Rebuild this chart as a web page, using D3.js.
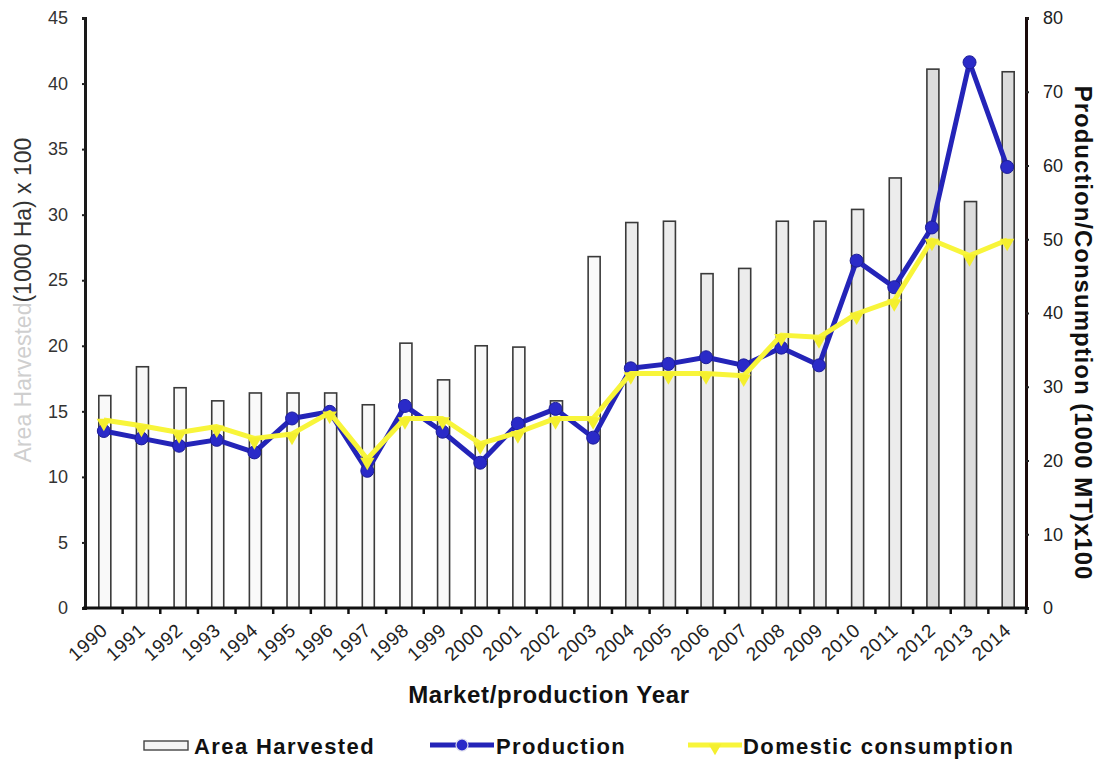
<!DOCTYPE html>
<html>
<head>
<meta charset="utf-8">
<script src="https://cdn.jsdelivr.net/npm/d3@7"></script>
<style>
  html, body { margin: 0; padding: 0; background: #fff; }
  svg { display: block; font-family: "Liberation Sans", Arial, sans-serif; }
</style>
</head>
<body>
<svg id="chart" width="1108" height="761"></svg>
<script>
// Market / production years
const years = [1990, 1991, 1992, 1993, 1994, 1995, 1996, 1997, 1998, 1999,
               2000, 2001, 2002, 2003, 2004, 2005, 2006, 2007, 2008, 2009,
               2010, 2011, 2012, 2013, 2014];

// Area harvested (1000 Ha) x 100 — left axis
const areaHarvested = [16.2, 18.4, 16.8, 15.8, 16.4, 16.4, 16.4, 15.5, 20.2, 17.4,
                       20.0, 19.9, 15.8, 26.8, 29.4, 29.5, 25.5, 25.9, 29.5, 29.5,
                       30.4, 32.8, 41.1, 31.0, 40.9];

// Production (1000 MT) x 100 — right axis
const production = [24.0, 23.0, 22.0, 22.8, 21.1, 25.7, 26.6, 18.6, 27.4, 23.9,
                    19.7, 25.0, 27.0, 23.1, 32.5, 33.1, 34.0, 32.9, 35.3, 32.9,
                    47.1, 43.5, 51.6, 74.0, 59.8];

// Domestic consumption (1000 MT) x 100 — right axis
const consumption = [25.5, 24.7, 23.8, 24.6, 23.0, 23.6, 26.5, 20.2, 25.7, 25.7,
                     22.3, 23.8, 25.7, 25.7, 31.8, 31.8, 31.8, 31.5, 37.0, 36.7,
                     39.9, 41.7, 49.9, 47.8, 49.9];

// Axis tick values
const leftTicks = [0, 5, 10, 15, 20, 25, 30, 35, 40, 45];
const rightTicks = [0, 10, 20, 30, 40, 50, 60, 70, 80];

const svg = d3.select("#chart");
const plot = { left: 85, right: 1026, top: 18, bottom: 608 };

const x = d3.scaleBand().domain(years).range([plot.left, plot.right]).padding(0);
const yL = d3.scaleLinear().domain([0, 45]).range([plot.bottom, plot.top]);
const yR = d3.scaleLinear().domain([0, 80]).range([plot.bottom, plot.top]);

// Bars: area harvested
const barW = 12;
svg.append("g").selectAll("rect")
  .data(years)
  .join("rect")
  .attr("x", (d) => x(d) + x.bandwidth() / 2 - barW / 2 + 1)
  .attr("y", (d, i) => yL(areaHarvested[i]))
  .attr("width", barW)
  .attr("height", (d, i) => yL(0) - yL(areaHarvested[i]))
  .attr("fill", (d, i) => i >= 22 ? "#dcdcdc" : (i >= 14 ? "#ececec" : "#f9f9f9"))
  .attr("stroke", "#3a3a3a")
  .attr("stroke-width", 1.6);

// Lines
const cx = (d) => x(d) + x.bandwidth() / 2;

const prodLine = d3.line().x((d, i) => cx(years[i])).y((d) => yR(d));
svg.append("path")
  .datum(production)
  .attr("d", prodLine)
  .attr("fill", "none")
  .attr("stroke", "#2424b8")
  .attr("stroke-width", 5)
  .attr("stroke-linejoin", "round");

svg.append("g").selectAll("circle")
  .data(production)
  .join("circle")
  .attr("cx", (d, i) => cx(years[i]))
  .attr("cy", (d) => yR(d))
  .attr("r", 6.5)
  .attr("fill", "#2a2ac8")
  .attr("stroke", "#1d1d9a")
  .attr("stroke-width", 1);

const consLine = d3.line().x((d, i) => cx(years[i])).y((d) => yR(d));
svg.append("path")
  .datum(consumption)
  .attr("d", consLine)
  .attr("fill", "none")
  .attr("stroke", "#f8f53a")
  .attr("stroke-width", 5)
  .attr("stroke-linejoin", "round");

svg.append("g").selectAll("path.tri")
  .data(consumption)
  .join("path")
  .attr("class", "tri")
  .attr("d", d3.symbol().type(d3.symbolTriangle).size(90))
  .attr("transform", (d, i) => `translate(${cx(years[i])},${yR(d) + 3}) rotate(180)`)
  .attr("fill", "#f4ef2e");

// Left axis
const axL = svg.append("g")
  .attr("transform", `translate(${plot.left},0)`)
  .call(d3.axisLeft(yL).tickValues(leftTicks).tickSize(3).tickPadding(14));
axL.select(".domain").attr("stroke", "#1a1a1a").attr("stroke-width", 3);
axL.selectAll(".tick line").attr("stroke", "#222").attr("stroke-width", 2);
axL.selectAll(".tick text").attr("font-size", 18).attr("fill", "#333");

// Right axis
const axR = svg.append("g")
  .attr("transform", `translate(${plot.right},0)`)
  .call(d3.axisRight(yR).tickValues(rightTicks).tickSize(3).tickPadding(14));
axR.select(".domain").attr("stroke", "#1a0a0a").attr("stroke-width", 3);
axR.selectAll(".tick line").attr("stroke", "#222").attr("stroke-width", 2);
axR.selectAll(".tick text").attr("font-size", 18).attr("fill", "#222");

// Bottom axis with ticks at category boundaries
const axB = svg.append("g").attr("transform", `translate(0,${plot.bottom})`);
axB.append("line")
  .attr("x1", plot.left - 2).attr("x2", plot.right + 2)
  .attr("stroke", "#111").attr("stroke-width", 3);
axB.selectAll("line.tk")
  .data(years.slice(1).concat(["end"]))
  .join("line")
  .attr("class", "tk")
  .attr("x1", (d) => d === "end" ? plot.right : x(d))
  .attr("x2", (d) => d === "end" ? plot.right : x(d))
  .attr("y1", 0).attr("y2", 6)
  .attr("stroke", "#111").attr("stroke-width", 2.5);
axB.selectAll("text")
  .data(years)
  .join("text")
  .attr("transform", (d) => `translate(${cx(d) + 5},${24}) rotate(-42)`)
  .attr("text-anchor", "end")
  .attr("font-size", 19)
  .attr("letter-spacing", 0.6)
  .attr("fill", "#222")
  .text((d) => d);

// Axis titles
svg.append("text")
  .attr("x", 549).attr("y", 703)
  .attr("text-anchor", "middle")
  .attr("font-size", 24).attr("font-weight", "bold")
  .attr("letter-spacing", 0.7)
  .attr("fill", "#111")
  .text("Market/production Year");

const leftTitle = svg.append("text")
  .attr("transform", "translate(31,300) rotate(-90)")
  .attr("text-anchor", "middle")
  .attr("font-size", 23);
leftTitle.append("tspan").attr("fill", "#cfcfcf").text("Area Harvested");
leftTitle.append("tspan").attr("fill", "#333").text("(1000 Ha) x 100");

svg.append("text")
  .attr("transform", "translate(1075,333) rotate(90)")
  .attr("text-anchor", "middle")
  .attr("font-size", 24).attr("font-weight", "bold")
  .attr("letter-spacing", 1)
  .attr("fill", "#111")
  .text("Production/Consumption (1000 MT)x100");

// Legend
const lg = svg.append("g")
  .attr("font-size", 22).attr("font-weight", "bold")
  .attr("letter-spacing", 1.4).attr("fill", "#111");
lg.append("rect").attr("x", 144).attr("y", 741).attr("width", 44).attr("height", 9)
  .attr("fill", "#f4f4f4").attr("stroke", "#444").attr("stroke-width", 1.4);
lg.append("text").attr("x", 194).attr("y", 754).text("Area Harvested");

lg.append("line").attr("x1", 430).attr("x2", 494).attr("y1", 745).attr("y2", 745)
  .attr("stroke", "#2424b8").attr("stroke-width", 5);
lg.append("circle").attr("cx", 462).attr("cy", 745).attr("r", 6)
  .attr("fill", "#2a2ac8").attr("stroke", "#dde").attr("stroke-width", 1.2);
lg.append("text").attr("x", 496).attr("y", 754).text("Production");

lg.append("line").attr("x1", 688).attr("x2", 742).attr("y1", 745).attr("y2", 745)
  .attr("stroke", "#f8f53a").attr("stroke-width", 5);
lg.append("path")
  .attr("d", d3.symbol().type(d3.symbolTriangle).size(70))
  .attr("transform", "translate(715,748) rotate(180)")
  .attr("fill", "#f4ef2e");
lg.append("text").attr("x", 743).attr("y", 754).text("Domestic consumption");
</script>
</body>
</html>
